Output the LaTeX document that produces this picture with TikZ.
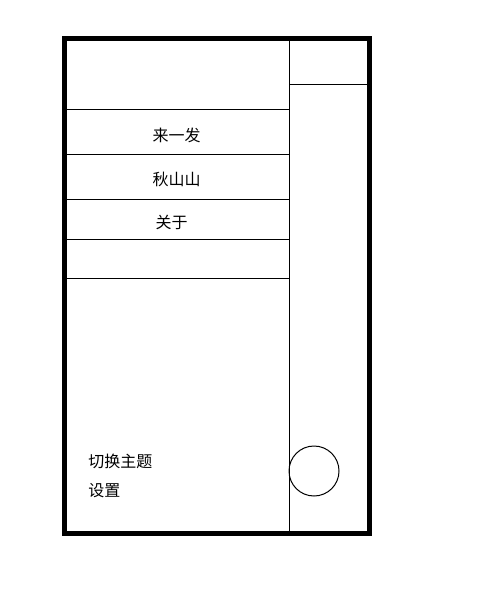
\documentclass[tikz,border=0pt]{standalone}
\usepackage{fontspec}
\newfontfamily\cjk{Noto Sans CJK SC}
\usetikzlibrary{positioning}
\begin{document}
\begin{tikzpicture}[x=0.75pt,y=-0.75pt]
 \useasboundingbox (0,0) rectangle (480,605);
 \tikzset{menu/.style={font=\cjk\fontsize{12pt}{14pt}\selectfont, inner sep=0pt, black}}

 %Coordinates
 \coordinate (topleft) at (64.5,39);
 \coordinate (botright) at (369,533.5);

 %Frame
 \draw[line width=3.75pt] (topleft) rectangle (botright);
 \draw[line width=0.75pt] (289.5,39) -- (289.5,533.5);
 \draw[line width=0.75pt] (289.5,84.5) -- (369,84.5);

 %Menu lines
 \foreach \y in {109.5,154.5,199.5,239.5,278.5}
 \draw[line width=0.75pt] (64.5,\y) -- (289.5,\y);

 %Names
 \node (fire) [menu] at (176.5,135) {来一发};
 \node (hill) [menu] at (176.5,179) {秋山山};
 \node (about) [menu] at (171.5,222) {关于};

 \node (theme) [menu, anchor=west] at (88,461) {切换主题};
 \node (setting) [menu, anchor=west] at (88,491) {设置};

 %Avatar
 \node (avatar) [draw, circle, line width=0.75pt, inner sep=0pt, minimum size=37.5pt] at (314,471) {};

\end{tikzpicture}
\end{document}
